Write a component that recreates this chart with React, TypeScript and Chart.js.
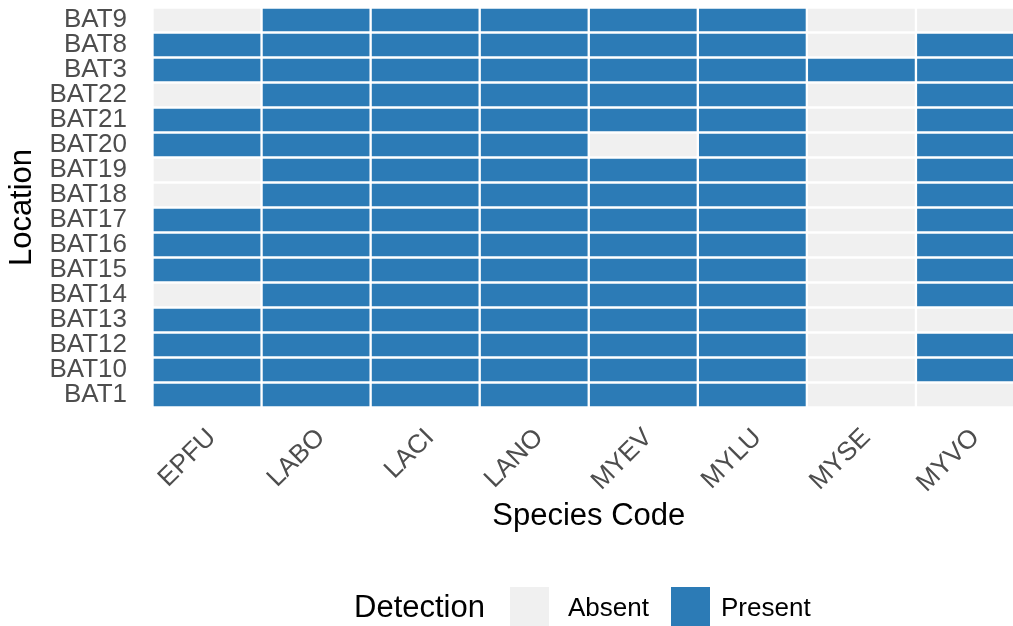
import React, { useEffect, useRef } from "react";
import { Chart, registerables } from "chart.js";

Chart.register(...registerables);

// Row order top -> bottom
const locations = [
  "BAT9", "BAT8", "BAT3", "BAT22", "BAT21", "BAT20", "BAT19", "BAT18",
  "BAT17", "BAT16", "BAT15", "BAT14", "BAT13", "BAT12", "BAT10", "BAT1",
];

const species = ["EPFU", "LABO", "LACI", "LANO", "MYEV", "MYLU", "MYSE", "MYVO"];

// 1 = Present, 0 = Absent, in the location order above
const EPFU = [0, 1, 1, 0, 1, 1, 0, 0, 1, 1, 1, 0, 1, 1, 1, 1];
const LABO = [1, 1, 1, 1, 1, 1, 1, 1, 1, 1, 1, 1, 1, 1, 1, 1];
const LACI = [1, 1, 1, 1, 1, 1, 1, 1, 1, 1, 1, 1, 1, 1, 1, 1];
const LANO = [1, 1, 1, 1, 1, 1, 1, 1, 1, 1, 1, 1, 1, 1, 1, 1];
const MYEV = [1, 1, 1, 1, 1, 0, 1, 1, 1, 1, 1, 1, 1, 1, 1, 1];
const MYLU = [1, 1, 1, 1, 1, 1, 1, 1, 1, 1, 1, 1, 1, 1, 1, 1];
const MYSE = [0, 0, 1, 0, 0, 0, 0, 0, 0, 0, 0, 0, 0, 0, 0, 0];
const MYVO = [0, 1, 1, 1, 1, 1, 1, 1, 1, 1, 1, 1, 0, 1, 1, 0];

const detections = [EPFU, LABO, LACI, LANO, MYEV, MYLU, MYSE, MYVO];

const legendLabels = ["Absent", "Present"];

const ABSENT = "#F0F0F0";
const PRESENT = "#2C7BB6";
const FONT = "'Liberation Sans', Arial, Helvetica, sans-serif";

export default function App() {
  const ref = useRef<HTMLCanvasElement | null>(null);

  useEffect(() => {
    if (!ref.current) return;
    const chart = new Chart(ref.current, {
      type: "bar",
      data: {
        labels: locations,
        datasets: species.map((sp, j) => ({
          label: sp,
          data: locations.map(() => [j, j + 1]),
          backgroundColor: detections[j].map((v) => (v ? PRESENT : ABSENT)),
          borderColor: "#FFFFFF",
          borderWidth: 1.5,
          borderSkipped: false,
          barPercentage: 1,
          categoryPercentage: 1,
          grouped: false,
        })),
      } as any,
      options: {
        indexAxis: "y",
        responsive: false,
        animation: false,
        layout: { padding: { top: 7.5, left: 0, right: 0, bottom: 0 } },
        plugins: { legend: { display: false }, tooltip: { enabled: false } },
        scales: {
          x: {
            type: "linear",
            position: "bottom",
            min: 0,
            max: species.length,
            grid: { display: false, drawTicks: false },
            border: { display: false },
            afterBuildTicks: (s: any) => {
              s.ticks = species.map((_, i) => ({ value: i + 0.5 }));
            },
            afterFit: (s: any) => {
              s.height = 218.5;
              s.paddingLeft = 0;
              s.paddingRight = 0;
              s.paddingTop = 0;
              s.paddingBottom = 0;
            },
            ticks: {
              autoSkip: false,
              minRotation: 45,
              maxRotation: 45,
              padding: 15,
              labelOffset: 5,
              color: "#4D4D4D",
              font: { family: FONT, size: 26 },
              callback: (_v: any, i: number) => species[i],
            },
            title: {
              display: true,
              text: "Species Code",
              color: "#000000",
              font: { family: FONT, size: 31 },
              padding: { top: 0, bottom: 91 },
            },
          },
          y: {
            type: "category",
            grid: { display: false, drawTicks: false },
            border: { display: false },
            afterFit: (s: any) => {
              s.width = 152.5;
              s.paddingLeft = 0;
              s.paddingRight = 0;
              s.paddingTop = 0;
              s.paddingBottom = 0;
            },
            ticks: {
              autoSkip: false,
              padding: 25.5,
              color: "#4D4D4D",
              font: { family: FONT, size: 26 },
            },
            title: {
              display: true,
              text: "Location",
              color: "#000000",
              font: { family: FONT, size: 31 },
              padding: { top: 3.5, bottom: 0 },
            },
          },
        },
      } as any,
    });
    return () => chart.destroy();
  }, []);

  const text = (t: string, left: number, size: number, color: string) => (
    <div
      style={{
        position: "absolute",
        left,
        top: 587,
        height: 40,
        lineHeight: "40px",
        fontFamily: FONT,
        fontSize: size,
        color,
        whiteSpace: "nowrap",
      }}
    >
      {t}
    </div>
  );

  return (
    <div
      style={{
        position: "fixed",
        left: 0,
        top: 0,
        width: 1013,
        height: 626,
        overflow: "hidden",
        background: "#FFFFFF",
      }}
    >
      <canvas ref={ref} width={1025} height={626} style={{ position: "absolute", left: 0, top: 0 }} />
      {text("Detection", 354, 31, "#000000")}
      <div style={{ position: "absolute", left: 510, top: 587, width: 39, height: 39, background: ABSENT }} />
      {text(legendLabels[0], 568, 26, "#000000")}
      <div style={{ position: "absolute", left: 671, top: 587, width: 39, height: 39, background: PRESENT }} />
      {text(legendLabels[1], 721, 26, "#000000")}
    </div>
  );
}
